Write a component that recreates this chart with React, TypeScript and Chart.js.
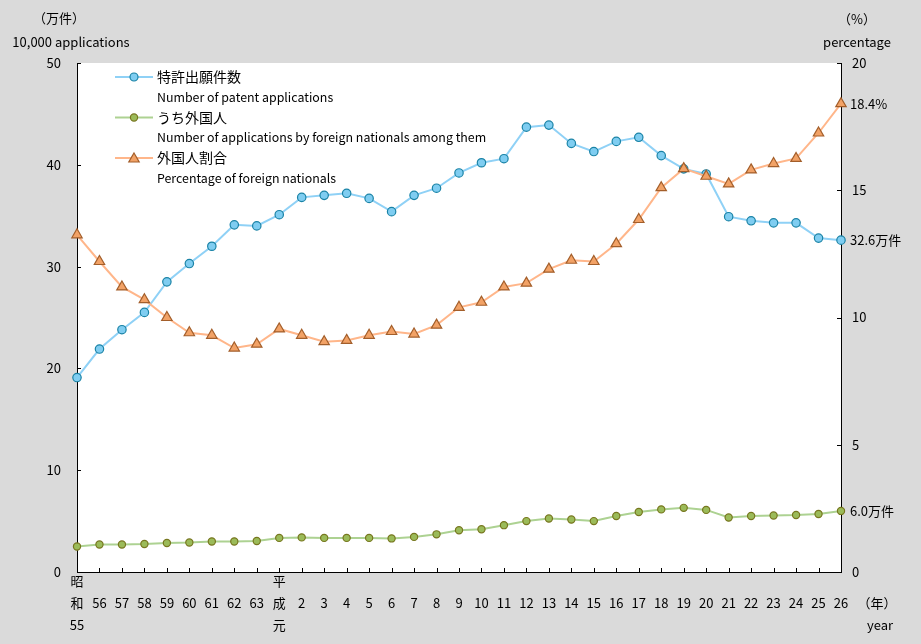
import React, { useEffect, useRef } from "react";
import { Chart, registerables } from "chart.js";

Chart.register(...registerables);

const years = [
  "昭和55", "56", "57", "58", "59", "60", "61", "62", "63",
  "平成元", "2", "3", "4", "5", "6", "7", "8", "9", "10",
  "11", "12", "13", "14", "15", "16", "17", "18", "19", "20",
  "21", "22", "23", "24", "25", "26",
];

// 特許出願件数（万件）
const patentApps = [
  19.1, 21.9, 23.8, 25.5, 28.5, 30.3, 32.0, 34.1, 34.0,
  35.1, 36.8, 37.0, 37.2, 36.7, 35.4, 37.0, 37.7, 39.2, 40.2,
  40.6, 43.7, 43.9, 42.1, 41.3, 42.3, 42.7, 40.9, 39.6, 39.1,
  34.9, 34.5, 34.3, 34.3, 32.8, 32.6,
];

// うち外国人（万件）
const foreignApps = [
  2.5, 2.7, 2.7, 2.75, 2.85, 2.9, 3.0, 3.0, 3.05,
  3.35, 3.4, 3.35, 3.35, 3.35, 3.3, 3.45, 3.7, 4.1, 4.2,
  4.6, 5.0, 5.25, 5.15, 5.0, 5.5, 5.9, 6.15, 6.3, 6.1,
  5.35, 5.5, 5.55, 5.6, 5.7, 6.0,
];

// 外国人割合（%）
const foreignPct = [
  13.25, 12.2, 11.2, 10.7, 10.0, 9.4, 9.3, 8.8, 8.95,
  9.55, 9.3, 9.05, 9.1, 9.3, 9.45, 9.35, 9.7, 10.4, 10.6,
  11.2, 11.35, 11.9, 12.25, 12.2, 12.9, 13.85, 15.1, 15.85, 15.55,
  15.25, 15.8, 16.05, 16.25, 17.25, 18.4,
];

const leftTicks = [0, 10, 20, 30, 40, 50];
const rightTicks = [0, 5, 10, 15, 20];

const legendJp = ["特許出願件数", "うち外国人", "外国人割合"];
const legendEn = [
  "Number of patent applications",
  "Number of applications by foreign nationals among them",
  "Percentage of foreign nationals",
];

const FONT = '"Noto Sans CJK JP", "Noto Sans", sans-serif';

const BLUE_LINE = "#8fd1f6";
const BLUE_FILL = "#7fcdf1";
const BLUE_EDGE = "#1a83a6";
const GREEN_LINE = "#add292";
const GREEN_FILL = "#9bbb59";
const GREEN_EDGE = "#77771f";
const ORANGE_LINE = "#ffb68a";
const ORANGE_FILL = "#f2a266";
const ORANGE_EDGE = "#a35e2a";

function splitLabel(s: string): string[] {
  if (/^[0-9]+$/.test(s)) return ["", s];
  const m = s.match(/^(.)(.)(.+)$/);
  return m ? [m[1], m[2], m[3]] : [s];
}

function drawMarker(ctx: CanvasRenderingContext2D, kind: string, x: number, y: number, r: number, fill: string, edge: string) {
  ctx.beginPath();
  if (kind === "triangle") {
    let rad = 0;
    ctx.moveTo(x + Math.sin(rad) * r, y - Math.cos(rad) * r);
    rad += (2 * Math.PI) / 3;
    ctx.lineTo(x + Math.sin(rad) * r, y - Math.cos(rad) * r);
    rad += (2 * Math.PI) / 3;
    ctx.lineTo(x + Math.sin(rad) * r, y - Math.cos(rad) * r);
    ctx.closePath();
  } else {
    ctx.arc(x, y, r, 0, Math.PI * 2);
  }
  ctx.fillStyle = fill;
  ctx.fill();
  ctx.lineWidth = 1.2;
  ctx.strokeStyle = edge;
  ctx.stroke();
}

const decor = {
  id: "decor",
  beforeDraw(chart: any) {
    const { ctx, chartArea: a, width, height } = chart;
    ctx.save();
    ctx.fillStyle = "#dadada";
    ctx.fillRect(0, 0, width, height);
    ctx.fillStyle = "#ffffff";
    ctx.fillRect(a.left, a.top, a.right - a.left, a.bottom - a.top);
    ctx.restore();
  },
  afterDraw(chart: any) {
    const { ctx, chartArea: a, scales } = chart;
    ctx.save();
    // inward tick marks
    ctx.strokeStyle = "#000";
    ctx.lineWidth = 1;
    leftTicks.forEach((v) => {
      const y = Math.round(scales.y.getPixelForValue(v)) + 0.5;
      ctx.beginPath();
      ctx.moveTo(a.left, y);
      ctx.lineTo(a.left + 4, y);
      ctx.stroke();
    });
    rightTicks.forEach((v) => {
      const y = Math.round(scales.y1.getPixelForValue(v)) + 0.5;
      ctx.beginPath();
      ctx.moveTo(a.right, y);
      ctx.lineTo(a.right - 4, y);
      ctx.stroke();
    });
    years.forEach((_, i) => {
      const x = Math.round(scales.x.getPixelForValue(i)) + 0.5;
      ctx.beginPath();
      ctx.moveTo(x, a.bottom);
      ctx.lineTo(x, a.bottom - 4);
      ctx.stroke();
    });

    // axis titles
    ctx.fillStyle = "#000";
    ctx.textAlign = "center";
    ctx.textBaseline = "middle";
    ctx.font = `13px ${FONT}`;
    ctx.fillText("（万件）", 59, 18);
    ctx.fillText("10,000 applications", 71, 42);
    ctx.fillText("（%）", 857, 19);
    ctx.fillText("percentage", 857, 42);
    ctx.fillText("（年）", 877, 603);
    ctx.fillText("year", 880, 625);

    // end-point value labels
    ctx.textAlign = "left";
    const lastIdx = years.length - 1;
    const endLabels = [
      { ds: 0, text: `${patentApps[lastIdx].toFixed(1)}万件` },
      { ds: 1, text: `${foreignApps[lastIdx].toFixed(1)}万件` },
      { ds: 2, text: `${foreignPct[lastIdx].toFixed(1)}%` },
    ];
    endLabels.forEach((l) => {
      const pt = chart.getDatasetMeta(l.ds).data[lastIdx];
      ctx.fillText(l.text, a.right + 9, pt.y);
    });

    // legend
    const styles = [
      { line: BLUE_LINE, fill: BLUE_FILL, edge: BLUE_EDGE, kind: "circle", r: 4 },
      { line: GREEN_LINE, fill: GREEN_FILL, edge: GREEN_EDGE, kind: "circle", r: 3.6 },
      { line: ORANGE_LINE, fill: ORANGE_FILL, edge: ORANGE_EDGE, kind: "triangle", r: 6 },
    ];
    styles.forEach((s, i) => {
      const y = 77 + i * 40.5;
      ctx.strokeStyle = s.line;
      ctx.lineWidth = 2;
      ctx.beginPath();
      ctx.moveTo(115, y);
      ctx.lineTo(153, y);
      ctx.stroke();
      drawMarker(ctx, s.kind, 134, y + (s.kind === "triangle" ? 1 : 0), s.r, s.fill, s.edge);
      ctx.fillStyle = "#000";
      ctx.font = `14px ${FONT}`;
      ctx.fillText(legendJp[i], 157, y);
      ctx.font = `12.4px ${FONT}`;
      ctx.fillText(legendEn[i], 157, y + 20);
    });
    ctx.restore();
  },
};

export default function App() {
  const ref = useRef<HTMLCanvasElement | null>(null);
  useEffect(() => {
    document.body.style.margin = "0";
    const canvas = ref.current;
    if (!canvas) return;
    const chart = new Chart(canvas, {
      type: "line",
      data: {
        labels: years,
        datasets: [
          {
            label: legendJp[0],
            data: patentApps,
            yAxisID: "y",
            borderColor: BLUE_LINE,
            borderWidth: 2,
            pointRadius: 4.2,
            pointBorderWidth: 1.2,
            pointBackgroundColor: BLUE_FILL,
            pointBorderColor: BLUE_EDGE,
            pointStyle: "circle",
            tension: 0,
            clip: false,
            order: 2,
          },
          {
            label: legendJp[1],
            data: foreignApps,
            yAxisID: "y",
            borderColor: GREEN_LINE,
            borderWidth: 2,
            pointRadius: 3.6,
            pointBorderWidth: 1.2,
            pointBackgroundColor: GREEN_FILL,
            pointBorderColor: GREEN_EDGE,
            pointStyle: "circle",
            tension: 0,
            clip: false,
            order: 3,
          },
          {
            label: legendJp[2],
            data: foreignPct,
            yAxisID: "y1",
            borderColor: ORANGE_LINE,
            borderWidth: 2,
            pointRadius: 6,
            pointBorderWidth: 1.2,
            pointBackgroundColor: ORANGE_FILL,
            pointBorderColor: ORANGE_EDGE,
            pointStyle: "triangle",
            tension: 0,
            clip: false,
            order: 1,
          },
        ] as any,
      },
      options: {
        responsive: false,
        animation: false,
        events: [],
        layout: { padding: { top: 63, left: 0, right: 0, bottom: 0 } },
        plugins: {
          legend: { display: false },
          tooltip: { enabled: false },
          title: { display: false },
        },
        scales: {
          x: {
            type: "category",
            offset: false,
            grid: { display: false, drawTicks: false },
            border: { display: true, color: "#000", width: 1 },
            ticks: {
              autoSkip: false,
              maxRotation: 0,
              minRotation: 0,
              padding: -2,
              color: "#000",
              font: { family: FONT, size: 13, lineHeight: "22px" },
              callback: (_v: any, i: number) => splitLabel(years[i]),
            },
            afterFit: (s: any) => {
              s.height = 72;
            },
          },
          y: {
            position: "left",
            min: 0,
            max: 50,
            grid: { display: false, drawTicks: false },
            border: { display: true, color: "#000", width: 1 },
            ticks: {
              stepSize: 10,
              padding: 16,
              color: "#000",
              font: { family: FONT, size: 13 },
            },
            afterFit: (s: any) => {
              s.width = 77;
            },
          },
          y1: {
            position: "right",
            min: 0,
            max: 20,
            grid: { display: false, drawTicks: false },
            border: { display: true, color: "#000", width: 1 },
            ticks: {
              stepSize: 5,
              padding: 11,
              color: "#000",
              font: { family: FONT, size: 13 },
            },
            afterFit: (s: any) => {
              s.width = 80;
            },
          },
        },
      } as any,
      plugins: [decor],
    });
    return () => chart.destroy();
  }, []);
  return <canvas ref={ref} width={921} height={644} style={{ display: "block" }} />;
}
